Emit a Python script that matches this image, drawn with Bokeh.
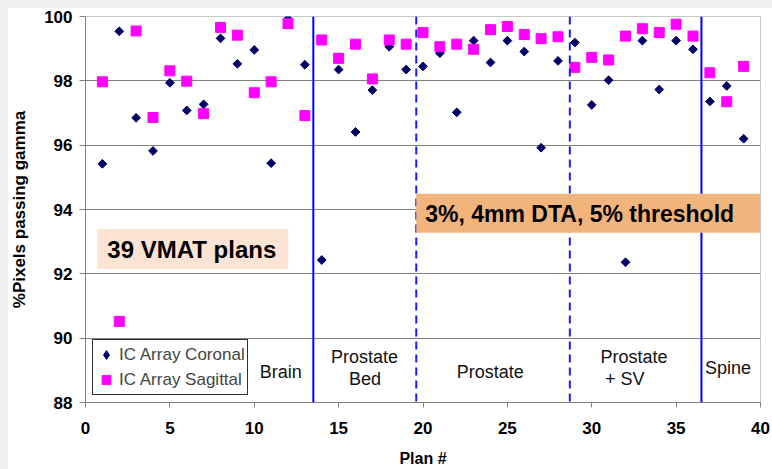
import math
from bokeh.plotting import figure
from bokeh.models import Span, Label, Legend, LegendItem, ColumnDataSource, FixedTicker
from bokeh.layouts import column
from bokeh.embed import file_html
from bokeh.resources import INLINE

# ---------------- data ----------------
plans = list(range(1, 40))
coronal = [95.42, 99.54, 96.85, 95.82, 97.94, 97.08, 97.27, 99.32, 98.53, 98.96,
           95.44, 99.93, 98.50, 92.43, 98.35, 96.41, 97.71, 99.06, 98.35, 98.45,
           98.86, 97.02, 99.25, 98.57, 99.25, 98.91, 95.92, 98.62, 99.19, 97.25,
           98.02, 92.36, 99.25, 97.73, 99.25, 98.98, 97.36, 97.84, 96.20]
sagittal = [97.97, 90.52, 99.55, 96.86, 98.31, 97.99, 96.98, 99.66, 99.42, 97.63,
            97.97, 99.78, 96.92, 99.27, 98.70, 99.14, 98.06, 99.27, 99.14, 99.50,
            99.06, 99.14, 98.98, 99.59, 99.69, 99.44, 99.31, 99.37, 98.42, 98.73,
            98.65, 99.39, 99.62, 99.50, 99.76, 99.39, 98.25, 97.35, 98.45]
series_names = ["IC Array Coronal", "IC Array Sagittal"]
x_ticks = [0, 5, 10, 15, 20, 25, 30, 35, 40]
y_ticks = [88, 90, 92, 94, 96, 98, 100]
solid_bounds = [13.5, 36.5]
dashed_bounds = [19.6, 28.7]
region_texts = ["Brain", "Prostate", "Bed", "Prostate", "Prostate", "+ SV", "Spine"]
region_x = [11.57, 16.54, 16.56, 23.98, 32.5, 31.95, 38.08]
region_y = [88.95, 89.41, 88.74, 88.95, 89.41, 88.74, 89.07]

FONT = "Liberation Sans"

p = figure(width=765, height=462, x_range=(0, 40), y_range=(88, 100),
           output_backend="svg", toolbar_location=None,
           min_border_left=72, min_border_right=12, min_border_top=9, min_border_bottom=61,
           background_fill_color="white", border_fill_color="white")
p.margin = (7, 0, 0, 7)
p.outline_line_color = "#c8c8c8"

# grid
p.xgrid.visible = False
p.ygrid.grid_line_color = "#808080"
p.ygrid.grid_line_width = 1
p.ygrid.ticker = FixedTicker(ticks=y_ticks)

# axes
for ax in (p.xaxis, p.yaxis):
    ax.axis_line_color = "#808080"
    ax.major_tick_line_color = "#808080"
    ax.minor_tick_line_color = None
    ax.major_tick_in = 0
    ax.major_label_text_font = FONT
    ax.major_label_text_font_style = "bold"
    ax.major_label_text_font_size = "17px"
    ax.major_label_text_color = "black"
    ax.axis_label_text_font = FONT
    ax.axis_label_text_font_style = "bold"
    ax.axis_label_text_color = "black"

p.xaxis.ticker = FixedTicker(ticks=x_ticks)
p.yaxis.ticker = FixedTicker(ticks=y_ticks)
p.xaxis.major_tick_out = 5
p.yaxis.major_tick_out = 6
p.xaxis.major_label_standoff = 14
p.yaxis.major_label_standoff = 7
p.xaxis.axis_label = "Plan #"
p.yaxis.axis_label = "%Pixels passing gamma"
p.xaxis.axis_label_text_font_size = "16px"
p.yaxis.axis_label_text_font_size = "17px"
p.xaxis.axis_label_standoff = 13
p.yaxis.axis_label_standoff = 12

# boundaries
for b in solid_bounds:
    p.add_layout(Span(location=b, dimension="height", line_color="#0000ff", line_width=2))
for b in dashed_bounds:
    p.add_layout(Span(location=b, dimension="height", line_color="#1a1aff", line_width=2,
                      line_dash="8 5"))

src = ColumnDataSource(dict(x=plans, c=coronal, s=sagittal))
r_c = p.scatter("x", "c", source=src, marker="square", angle=math.pi / 4, size=6.2,
                fill_color="#000066", line_color="#000066")
r_s = p.scatter("x", "s", source=src, marker="square", size=10,
                fill_color="#ff00ff", line_color="#ff00ff")
# legend-only glyph for the coronal series (diamond shape), not drawn in the plot
r_c_leg = p.scatter("x", "c", source=src, marker="diamond", size=9,
                    fill_color="#000066", line_color="#000066", visible=False)

# region labels
for t, x, y in zip(region_texts, region_x, region_y):
    p.add_layout(Label(x=x, y=y, text=t, text_font=FONT, text_font_size="18px",
                       text_align="center", text_baseline="middle", text_color="#111111"))

# annotation boxes
p.add_layout(Label(x=0.7, y=93.39, text="39 VMAT plans", text_font=FONT,
                   text_font_size="24px", text_font_style="bold", text_color="black",
                   anchor="top_left", background_fill_color="#fce3d3",
                   padding=dict(left=10, right=12, top=7, bottom=6)))
p.add_layout(Label(x=19.6, y=94.49, text="3%, 4mm DTA, 5% threshold", text_font=FONT,
                   text_font_size="23px", text_font_style="bold", text_color="black",
                   anchor="top_left", background_fill_color="#f1b47c",
                   padding=dict(left=9, right=26, top=7, bottom=6)))

legend = Legend(items=[LegendItem(label=series_names[0], renderers=[r_c_leg]),
                       LegendItem(label=series_names[1], renderers=[r_s])],
                location=(7, 7), label_text_font=FONT, label_text_font_size="17px",
                padding=2, spacing=0, glyph_width=22, glyph_height=25, label_height=25,
                label_standoff=2, click_policy="none",
                background_fill_color="white", background_fill_alpha=1, margin=0)
legend.border_line_color = "#303030"
legend.border_line_width = 1.5
legend.border_line_alpha = 1.0
p.add_layout(legend)

layout = column(p, width=772, height=469, styles={"background-color": "#f0f0f0"})
open("out.html", "w").write(file_html(layout, INLINE))
